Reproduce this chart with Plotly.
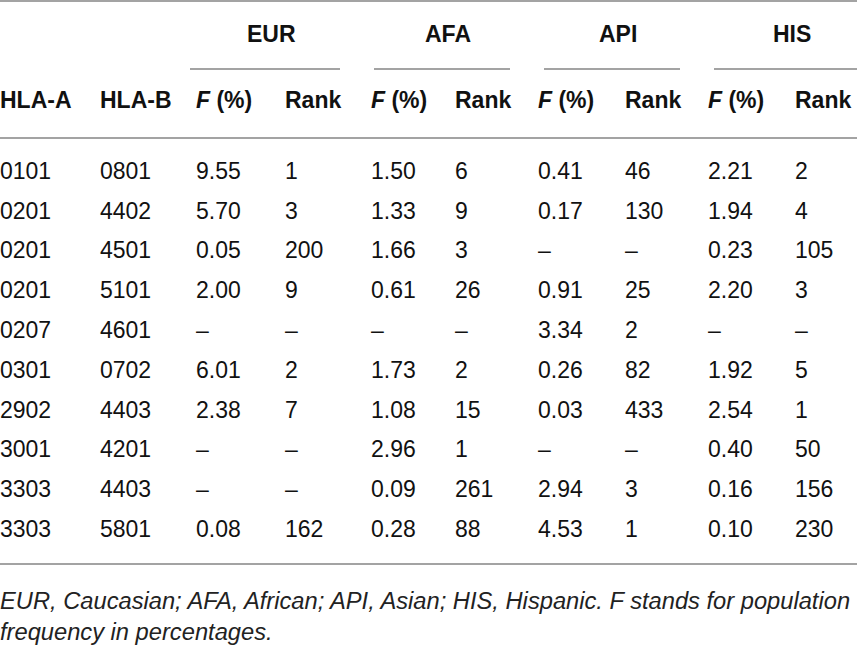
import plotly.graph_objects as go

# Table data
hla_a = ["0101", "0201", "0201", "0201", "0207", "0301", "2902", "3001", "3303", "3303"]
hla_b = ["0801", "4402", "4501", "5101", "4601", "0702", "4403", "4201", "4403", "5801"]

eur_f = [9.55, 5.70, 0.05, 2.00, None, 6.01, 2.38, None, None, 0.08]
eur_rank = [1, 3, 200, 9, None, 2, 7, None, None, 162]
afa_f = [1.50, 1.33, 1.66, 0.61, None, 1.73, 1.08, 2.96, 0.09, 0.28]
afa_rank = [6, 9, 3, 26, None, 2, 15, 1, 261, 88]
api_f = [0.41, 0.17, None, 0.91, 3.34, 0.26, 0.03, None, 2.94, 4.53]
api_rank = [46, 130, None, 25, 2, 82, 433, None, 3, 1]
his_f = [2.21, 1.94, 0.23, 2.20, None, 1.92, 2.54, 0.40, 0.16, 0.10]
his_rank = [2, 4, 105, 3, None, 5, 1, 50, 156, 230]

groups = ["EUR", "AFA", "API", "HIS"]
col_labels = ["HLA-A", "HLA-B"] + ["<i>F</i> (%)", "Rank"] * 4
footnote = ("EUR, Caucasian; AFA, African; API, Asian; HIS, Hispanic. F stands for population<br>"
            "frequency in percentages.")

# Layout (pixels)
W, H = 857, 650
col_x = [0, 100, 196, 285, 371, 455, 538, 625, 708, 795]
group_span = [(190, 340), (374, 510), (544, 680), (714, 857)]
row_y0, row_h = 173, 39.8
FONT = "Liberation Sans, Arial, sans-serif"
RULE = "#a3a3a3"


def fmt_f(v):
    return "–" if v is None else f"{v:.2f}"


def fmt_r(v):
    return "–" if v is None else str(v)


columns = [hla_a, hla_b,
           [fmt_f(v) for v in eur_f], [fmt_r(v) for v in eur_rank],
           [fmt_f(v) for v in afa_f], [fmt_r(v) for v in afa_rank],
           [fmt_f(v) for v in api_f], [fmt_r(v) for v in api_rank],
           [fmt_f(v) for v in his_f], [fmt_r(v) for v in his_rank]]

row_pos = [row_y0 + i * row_h for i in range(len(hla_a))]

fig = go.Figure()

for x0, cells in zip(col_x, columns):
    fig.add_trace(go.Scatter(
        x=[x0] * len(cells), y=row_pos, text=cells,
        mode="text", textposition="middle right",
        textfont=dict(family=FONT, size=23, color="#111111"),
        hoverinfo="skip", showlegend=False,
    ))

# group headers and their underlines
for g, (a, b) in zip(groups, group_span):
    fig.add_annotation(x=(a + b) / 2 + 6, y=34, text=f"<b>{g}</b>", showarrow=False,
                       xanchor="center", yanchor="middle",
                       font=dict(family=FONT, size=23, color="#111111"))
    fig.add_shape(type="line", x0=a, x1=b, y0=69, y1=69, line=dict(color=RULE, width=2))

# column headers
for x0, lab in zip(col_x, col_labels):
    fig.add_annotation(x=x0, y=100, text=f"<b>{lab}</b>", showarrow=False,
                       xanchor="left", yanchor="middle", xshift=-2,
                       font=dict(family=FONT, size=23, color="#111111"))

# horizontal rules
for yy in [1, 138, 564]:
    fig.add_shape(type="line", x0=0, x1=W, y0=yy, y1=yy, line=dict(color=RULE, width=2))

fig.add_annotation(x=0, y=616, text=f"<i>{footnote}</i>", showarrow=False,
                   xanchor="left", yanchor="middle", align="left", xshift=-2,
                   font=dict(family=FONT, size=23.7, color="#222222"))

fig.update_xaxes(range=[0, W], visible=False, fixedrange=True)
fig.update_yaxes(range=[H, 0], visible=False, fixedrange=True)
fig.update_layout(width=W, height=H, margin=dict(l=0, r=0, t=0, b=0),
                  plot_bgcolor="white", paper_bgcolor="white")

fig.write_html("out.html", config={"displayModeBar": False},
               post_script="document.body.style.margin='0';document.body.style.overflow='hidden';")
